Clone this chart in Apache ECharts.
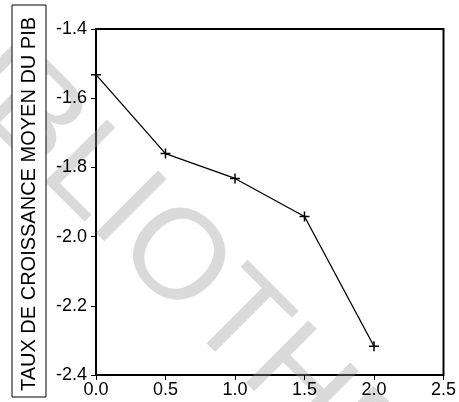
<!DOCTYPE html>
<html>
<head>
<meta charset="utf-8">
<script src="https://cdn.jsdelivr.net/npm/echarts@6/dist/echarts.min.js"></script>
<style>
  html, body { margin: 0; padding: 0; background: #fff; }
  #chart { width: 459px; height: 402px; }
</style>
</head>
<body>
<div id="chart"></div>
<script>
// valeurs
var xValues = [0.0, 0.5, 1.0, 1.5, 2.0]
var tauxPib = [-1.532, -1.760, -1.832, -1.942, -2.317]
var xTicks = [0.0, 0.5, 1.0, 1.5, 2.0, 2.5]
var yTicks = [-2.4, -2.2, -2.0, -1.8, -1.6, -1.4]
var yTitle = 'TAUX DE CROISSANCE MOYEN DU PIB'
var watermark = 'BIBLIOTHEQUE'

var font = '"Liberation Sans", Arial, sans-serif'

var chart = echarts.init(document.getElementById('chart'))

var option = {
  animation: false,
  backgroundColor: '#fff',
  grid: {
    left: 96,
    right: 13,
    top: 29,
    bottom: 27,
    show: true,
    borderColor: '#000',
    borderWidth: 2,
    backgroundColor: 'transparent'
  },
  xAxis: {
    type: 'value',
    min: xTicks[0],
    max: xTicks[xTicks.length - 1],
    interval: 0.5,
    axisLine: { show: true, lineStyle: { color: '#000', width: 1.5 } },
    axisTick: { show: true, length: 5, lineStyle: { color: '#000' } },
    splitLine: { show: false },
    axisLabel: {
      color: '#000',
      fontSize: 18,
      fontFamily: font,
      margin: 6,
      formatter: function (v) { return v.toFixed(1) }
    }
  },
  yAxis: {
    type: 'value',
    min: yTicks[0],
    max: yTicks[yTicks.length - 1],
    interval: 0.2,
    axisLine: { show: true, lineStyle: { color: '#000', width: 1.5 } },
    axisTick: { show: true, length: 5, lineStyle: { color: '#000' } },
    splitLine: { show: false },
    axisLabel: {
      color: '#000',
      fontSize: 18,
      fontFamily: font,
      margin: 9,
      formatter: function (v) { return v.toFixed(1) }
    }
  },
  graphic: [
    {
      // filigrane
      type: 'group',
      x: 173,
      y: 260,
      rotation: -Math.PI / 4,
      z: -10,
      silent: true,
      children: [{
        type: 'text',
        style: {
          text: watermark,
          x: -363,
          y: 0,
          verticalAlign: 'middle',
          align: 'left',
          font: '128px ' + font,
          fill: '#dadada'
        }
      }]
    },
    {
      type: 'rect',
      shape: { x: 12, y: 5, width: 34, height: 392 },
      style: { fill: '#fff', stroke: '#000', lineWidth: 1 },
      z: 5
    },
    {
      type: 'text',
      x: 29,
      y: 204,
      rotation: Math.PI / 2,
      z: 6,
      style: {
        text: yTitle,
        align: 'center',
        verticalAlign: 'middle',
        font: '20px ' + font,
        fill: '#000'
      }
    }
  ],
  series: [
    {
      type: 'line',
      data: xValues.map(function (x, i) { return [x, tauxPib[i]] }),
      symbol: 'path://M0,5L10,5M5,0L5,10',
      symbolSize: 10,
      itemStyle: { color: '#000', borderColor: '#000', borderWidth: 1.5 },
      lineStyle: { color: '#000', width: 1.3 },
      z: 10
    }
  ]
}

chart.setOption(option)
</script>
</body>
</html>
